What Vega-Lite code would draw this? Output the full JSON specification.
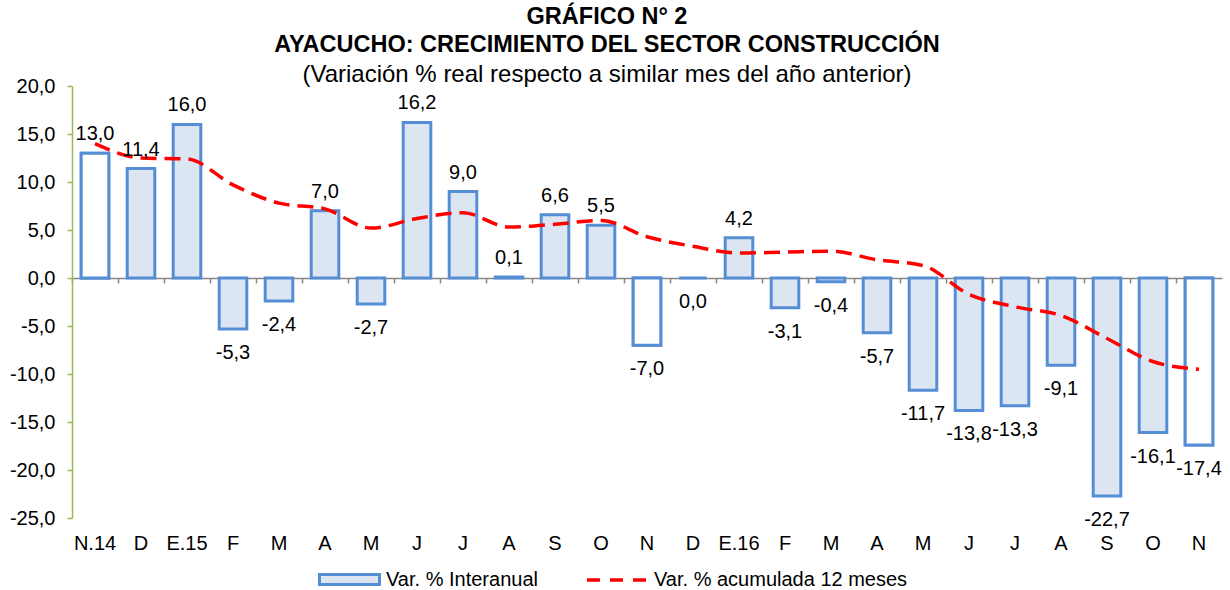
{
  "$schema": "https://vega.github.io/schema/vega-lite/v6.json",
  "width": 1150,
  "height": 432,
  "autosize": {"type": "none"},
  "padding": {"left": 72, "top": 86, "right": 8, "bottom": 72},
  "background": "white",
  "config": {
    "font": "Liberation Sans",
    "view": {"stroke": null},
    "locale": {"number": {"decimal": ",", "thousands": ".", "grouping": [3], "currency": ["", ""], "minus": "-"}}
  },
  "title": {
    "text": ["GRÁFICO N° 2", "AYACUCHO: CRECIMIENTO DEL SECTOR CONSTRUCCIÓN"],
    "subtitle": "(Variación % real respecto a similar mes del año anterior)",
    "anchor": "middle",
    "frame": "group",
    "font": "Liberation Sans",
    "fontSize": 23.5,
    "fontWeight": "bold",
    "lineHeight": 28,
    "color": "black",
    "subtitleFont": "Liberation Sans",
    "subtitleFontSize": 24,
    "subtitleFontWeight": "normal",
    "subtitleColor": "black",
    "subtitleLineHeight": 27,
    "subtitlePadding": 7,
    "offset": -11,
    "dx": -40
  },
  "data": {
    "values": [
      {"clave": "N.14|2014-11", "mes": "N", "interanual": 13.0, "acumulada": 14.0},
      {"clave": "D|2014-12", "mes": "D", "interanual": 11.4, "acumulada": 12.5},
      {"clave": "E.15|2015-01", "mes": "E", "interanual": 16.0, "acumulada": 12.4},
      {"clave": "F|2015-02", "mes": "F", "interanual": -5.3, "acumulada": 9.7},
      {"clave": "M|2015-03", "mes": "M", "interanual": -2.4, "acumulada": 7.8},
      {"clave": "A|2015-04", "mes": "A", "interanual": 7.0, "acumulada": 7.2},
      {"clave": "M|2015-05", "mes": "M", "interanual": -2.7, "acumulada": 5.2},
      {"clave": "J|2015-06", "mes": "J", "interanual": 16.2, "acumulada": 6.2},
      {"clave": "J|2015-07", "mes": "J", "interanual": 9.0, "acumulada": 6.8},
      {"clave": "A|2015-08", "mes": "A", "interanual": 0.1, "acumulada": 5.3},
      {"clave": "S|2015-09", "mes": "S", "interanual": 6.6, "acumulada": 5.6},
      {"clave": "O|2015-10", "mes": "O", "interanual": 5.5, "acumulada": 6.0},
      {"clave": "N|2015-11", "mes": "N", "interanual": -7.0, "acumulada": 4.3},
      {"clave": "D|2015-12", "mes": "D", "interanual": 0.0, "acumulada": 3.3},
      {"clave": "E.16|2016-01", "mes": "E", "interanual": 4.2, "acumulada": 2.6},
      {"clave": "F|2016-02", "mes": "F", "interanual": -3.1, "acumulada": 2.7},
      {"clave": "M|2016-03", "mes": "M", "interanual": -0.4, "acumulada": 2.8},
      {"clave": "A|2016-04", "mes": "A", "interanual": -5.7, "acumulada": 1.9},
      {"clave": "M|2016-05", "mes": "M", "interanual": -11.7, "acumulada": 1.3},
      {"clave": "J|2016-06", "mes": "J", "interanual": -13.8, "acumulada": -1.7},
      {"clave": "J|2016-07", "mes": "J", "interanual": -13.3, "acumulada": -3.0},
      {"clave": "A|2016-08", "mes": "A", "interanual": -9.1, "acumulada": -3.9},
      {"clave": "S|2016-09", "mes": "S", "interanual": -22.7, "acumulada": -6.3},
      {"clave": "O|2016-10", "mes": "O", "interanual": -16.1, "acumulada": -8.7},
      {"clave": "N|2016-11", "mes": "N", "interanual": -17.4, "acumulada": -9.5}
    ]
  },
  "resolve": {"axis": {"x": "independent"}},
  "layer": [
    {
      "mark": {"type": "bar", "stroke": "#558ED5", "strokeWidth": 3},
      "encoding": {
        "x": {
          "field": "clave", "type": "ordinal", "sort": null,
          "scale": {"paddingInner": 0.4, "paddingOuter": 0.2},
          "axis": {
            "title": null, "domain": false, "ticks": false, "grid": false,
            "labelAngle": 0, "labelFontSize": 20, "labelColor": "black",
            "labelPadding": 15, "labelExpr": "split(datum.label, '|')[0]"
          }
        },
        "y": {
          "field": "interanual", "type": "quantitative", "stack": null,
          "scale": {"domain": [-25, 20], "nice": false},
          "axis": {
            "title": null, "grid": false, "values": [-25, -20, -15, -10, -5, 0, 5, 10, 15, 20],
            "format": ".1f", "labelFontSize": 20, "labelColor": "black", "labelPadding": 12,
            "domainColor": "#9BBB59", "domainWidth": 1.5, "tickColor": "#9BBB59", "tickSize": 5, "tickWidth": 1.5
          }
        },
        "fill": {
          "datum": "Var. % Interanual", "type": "nominal",
          "scale": {"range": ["#DCE6F2"]},
          "legend": {
            "title": null, "orient": "none", "direction": "horizontal",
            "legendX": 246, "legendY": 462,
            "labelFontSize": 20, "labelColor": "black", "labelOffset": 5, "labelLimit": 600,
            "symbolSize": 3600,
            "symbolType": "M-1,-0.17H1V0.17H-1Z",
            "symbolStrokeColor": "#558ED5",
            "symbolStrokeWidth": 3,
            "symbolFillColor": "#DCE6F2",
            "symbolOpacity": 1
          }
        }
      }
    },
    {
      "transform": [{"filter": "datum.mes === 'N'"}],
      "mark": {"type": "bar", "stroke": "#558ED5", "strokeWidth": 3, "fill": "#FFFFFF"},
      "encoding": {
        "x": {"field": "clave", "type": "ordinal", "sort": null, "axis": null},
        "y": {"field": "interanual", "type": "quantitative", "stack": null}
      }
    },
    {
      "mark": {"type": "line", "strokeWidth": 3.5, "strokeDash": [16, 8], "interpolate": "monotone"},
      "encoding": {
        "x": {
          "field": "clave", "type": "ordinal", "sort": null,
          "axis": {
            "title": null, "labels": false, "grid": false, "orient": "bottom", "offset": -240,
            "domain": true, "domainColor": "#868686", "domainWidth": 1.5,
            "ticks": true, "tickColor": "#868686", "tickSize": 5, "tickWidth": 1.5,
            "bandPosition": 0.5, "tickOffset": -23
          }
        },
        "y": {"field": "acumulada", "type": "quantitative"},
        "stroke": {
          "datum": "Var. % acumulada 12 meses", "type": "nominal",
          "scale": {"range": ["#FF0000"]},
          "legend": {
            "title": null, "orient": "none", "direction": "horizontal",
            "legendX": 513, "legendY": 462,
            "labelFontSize": 20, "labelColor": "black", "labelOffset": 5, "labelLimit": 600,
            "symbolSize": 3600,
            "symbolType": "stroke",
            "symbolDash": [13, 10],
            "symbolStrokeWidth": 3.5,
            "symbolStrokeColor": "#FF0000",
            "symbolOpacity": 1
          }
        }
      }
    },
    {
      "transform": [{"filter": "datum.interanual > 0"}],
      "mark": {"type": "text", "fontSize": 20, "color": "black", "baseline": "alphabetic", "dy": -13},
      "encoding": {
        "x": {"field": "clave", "type": "ordinal", "sort": null, "axis": null},
        "y": {"field": "interanual", "type": "quantitative"},
        "text": {"field": "interanual", "type": "quantitative", "format": ".1f"}
      }
    },
    {
      "transform": [{"filter": "datum.interanual <= 0"}],
      "mark": {"type": "text", "fontSize": 20, "color": "black", "baseline": "alphabetic", "dy": 30},
      "encoding": {
        "x": {"field": "clave", "type": "ordinal", "sort": null, "axis": null},
        "y": {"field": "interanual", "type": "quantitative"},
        "text": {"field": "interanual", "type": "quantitative", "format": ".1f"}
      }
    }
  ]
}
